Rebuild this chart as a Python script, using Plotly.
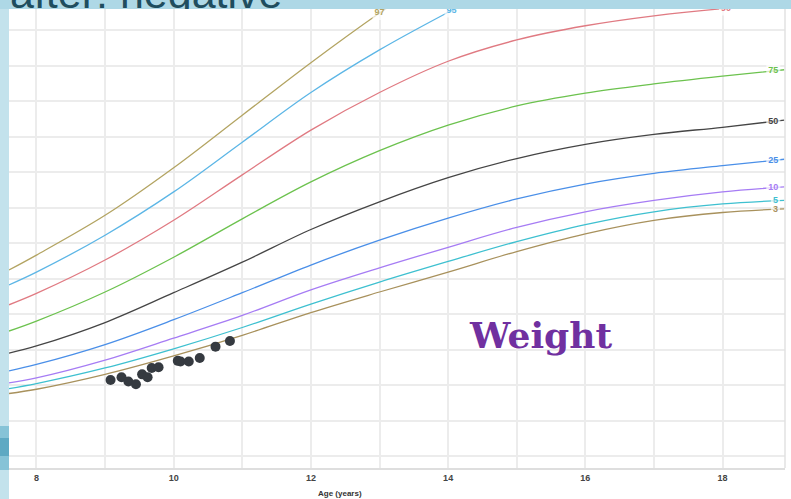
import numpy as np
import plotly.graph_objects as go

# ---------------- data (weight in kg vs age in years) ----------------
ages = [7.6, 8, 9, 10, 11, 12, 13, 14, 15, 16, 17, 18, 18.9]

p97_age = [7.6, 8, 9, 10, 11, 12, 13, 13.2]
p97 = [36.2, 38.3, 43.9, 50.6, 58.0, 65.4, 72.4, 73.7]
p95_age = [7.6, 8, 9, 10, 11, 12, 13, 14, 14.2]
p95 = [34.1, 35.9, 41.1, 47.2, 54.2, 61.2, 67.2, 72.5, 73.5]
p90 = [31.3, 32.9, 37.6, 43.2, 49.6, 55.9, 61.2, 65.6, 68.6, 70.6, 72.0, 73.0, 73.6]
p75 = [27.6, 29.0, 33.1, 38.0, 43.4, 48.6, 53.0, 56.6, 59.3, 61.1, 62.4, 63.5, 64.4]
p50 = [24.5, 25.5, 28.8, 33.0, 37.3, 41.9, 45.8, 49.2, 51.9, 53.9, 55.3, 56.3, 57.3]
p25 = [22.0, 22.9, 25.7, 29.2, 33.0, 36.9, 40.4, 43.5, 46.2, 48.3, 49.8, 50.9, 51.8]
p10 = [20.3, 21.0, 23.5, 26.6, 29.8, 33.4, 36.5, 39.4, 42.2, 44.4, 46.0, 47.2, 47.9]
p5 = [19.5, 20.2, 22.4, 25.1, 28.1, 31.4, 34.5, 37.4, 40.2, 42.6, 44.4, 45.5, 46.0]
p3 = [18.8, 19.4, 21.5, 24.1, 27.0, 30.2, 33.1, 35.9, 38.8, 41.3, 43.2, 44.3, 44.8]

patient_age = [9.08, 9.24, 9.34, 9.45, 9.54, 9.62, 9.68, 9.78,
               10.06, 10.10, 10.22, 10.38, 10.61, 10.82]
patient_wt = [20.7, 21.1, 20.5, 20.1, 21.5, 21.1, 22.4, 22.5,
              23.4, 23.3, 23.3, 23.8, 25.4, 26.2]

pct_names = ['97', '95', '90', '75', '50', '25', '10', '5', '3']
label_age = [13.0, 14.05, 18.05, 18.74, 18.74, 18.74, 18.74, 18.77, 18.77]

x_ticks = [8, 10, 12, 14, 16, 18]

# ---------------- styling ----------------
colors = {
    '97': '#b3a462', '95': '#5cb6e6', '90': '#e07a82', '75': '#6cc24e',
    '50': '#454545', '25': '#4a8fe8', '10': '#a67cf4', '5': '#3ec0d0', '3': '#a8915c',
}
curves = {
    '97': (p97_age, p97), '95': (p95_age, p95), '90': (ages, p90),
    '75': (ages, p75), '50': (ages, p50), '25': (ages, p25),
    '10': (ages, p10), '5': (ages, p5), '3': (ages, p3),
}

W, H = 791, 499
L, R, T, B = 9, 785, 9, 468  # plot area in pixels
xdom = [L / W, R / W]
ydom = [(H - B) / H, (H - T) / H]

fig = go.Figure()

for name in pct_names:
    xs, ys = curves[name]
    fig.add_trace(go.Scatter(
        x=xs, y=ys, mode='lines', line=dict(color=colors[name], width=1.3, shape='spline', smoothing=1.0),
        hoverinfo='skip', showlegend=False))

# percentile labels sitting on their curves
lab_y = [float(np.interp(a, curves[n][0], curves[n][1])) for n, a in zip(pct_names, label_age)]
fig.add_trace(go.Scatter(
    x=label_age, y=lab_y, mode='markers+text', text=pct_names,
    textposition='middle center',
    textfont=dict(family='Liberation Sans', size=9, color=[colors[n] for n in pct_names], weight='bold'),
    marker=dict(symbol='square', color='white', size=[len(n) * 5 + 3 for n in pct_names]),
    hoverinfo='skip', showlegend=False))

# patient measurements
fig.add_trace(go.Scatter(
    x=patient_age, y=patient_wt, mode='markers',
    marker=dict(color='#353a40', size=10), showlegend=False))

# slide heading partially hidden behind the chart
fig.add_trace(go.Scatter(
    x=[10], y=[1.3], text=['after: negative'], mode='text', textposition='middle right',
    textfont=dict(family='Liberation Sans', size=43, color='#1f4d5e'),
    xaxis='x2', yaxis='y2', hoverinfo='skip', showlegend=False))

grid = '#ececec'
fig.update_layout(
    width=W, height=H,
    margin=dict(l=0, r=0, t=0, b=0),
    paper_bgcolor='#aed8e6',
    plot_bgcolor='rgba(0,0,0,0)',
    xaxis=dict(domain=xdom, range=[7.6, 18.91], tickvals=x_ticks, ticktext=[str(v) for v in x_ticks],
               showgrid=True, gridcolor=grid, gridwidth=1.5, zeroline=False,
               minor=dict(dtick=1, tick0=8, showgrid=True, gridcolor=grid, gridwidth=1.5),
               showline=True, linecolor='#dedede', linewidth=1.5,
               tickfont=dict(family='Liberation Sans', size=9, color='#444444', weight='bold'),
               ticks='', fixedrange=True),
    yaxis=dict(domain=ydom, range=[8.31, 72.96], dtick=5, tick0=0, showgrid=True, gridcolor=grid,
               gridwidth=1.5, zeroline=False, showticklabels=False, showline=False, fixedrange=True),
    xaxis2=dict(domain=[0, 1], range=[0, W], visible=False, anchor='y2', fixedrange=True),
    yaxis2=dict(domain=[(H - T) / H, 1], range=[0, 1], visible=False, anchor='x2', fixedrange=True),
    shapes=[
        dict(type='rect', xref='paper', yref='paper', x0=L / W, x1=1, y0=0, y1=(H - T) / H,
             fillcolor='white', line=dict(width=0), layer='below'),
        dict(type='rect', xref='paper', yref='paper', x0=0, x1=L / W, y0=0, y1=(H - T) / H,
             fillcolor='#c3e2ec', line=dict(width=0), layer='below'),
        dict(type='rect', xref='paper', yref='paper', x0=0, x1=L / W, y0=(H - 470) / H, y1=(H - 426) / H,
             fillcolor='#86c3d7', line=dict(width=0), layer='below'),
        dict(type='rect', xref='paper', yref='paper', x0=0, x1=L / W, y0=(H - 456) / H, y1=(H - 438) / H,
             fillcolor='#5ea9c3', line=dict(width=0), layer='below'),
        dict(type='line', xref='paper', yref='paper', x0=R / W, x1=R / W, y0=ydom[0], y1=ydom[1],
             line=dict(color='#e2e2e2', width=1.5)),
    ],
    annotations=[
        dict(text='Weight', xref='paper', yref='paper', x=540 / W, y=(H - 335) / H,
             xanchor='center', yanchor='middle', showarrow=False,
             font=dict(family='DejaVu Serif', size=36, color='#7030a0', weight='bold')),
        dict(text='Age (years)', xref='paper', yref='paper', x=340 / W, y=(H - 493) / H,
             xanchor='center', yanchor='middle', showarrow=False,
             font=dict(family='Liberation Sans', size=8, color='#333333', weight='bold')),
    ],
)

fig.write_html('out.html', config={'displayModeBar': False},
               post_script="document.body.style.margin='0';document.body.style.overflow='hidden';")
